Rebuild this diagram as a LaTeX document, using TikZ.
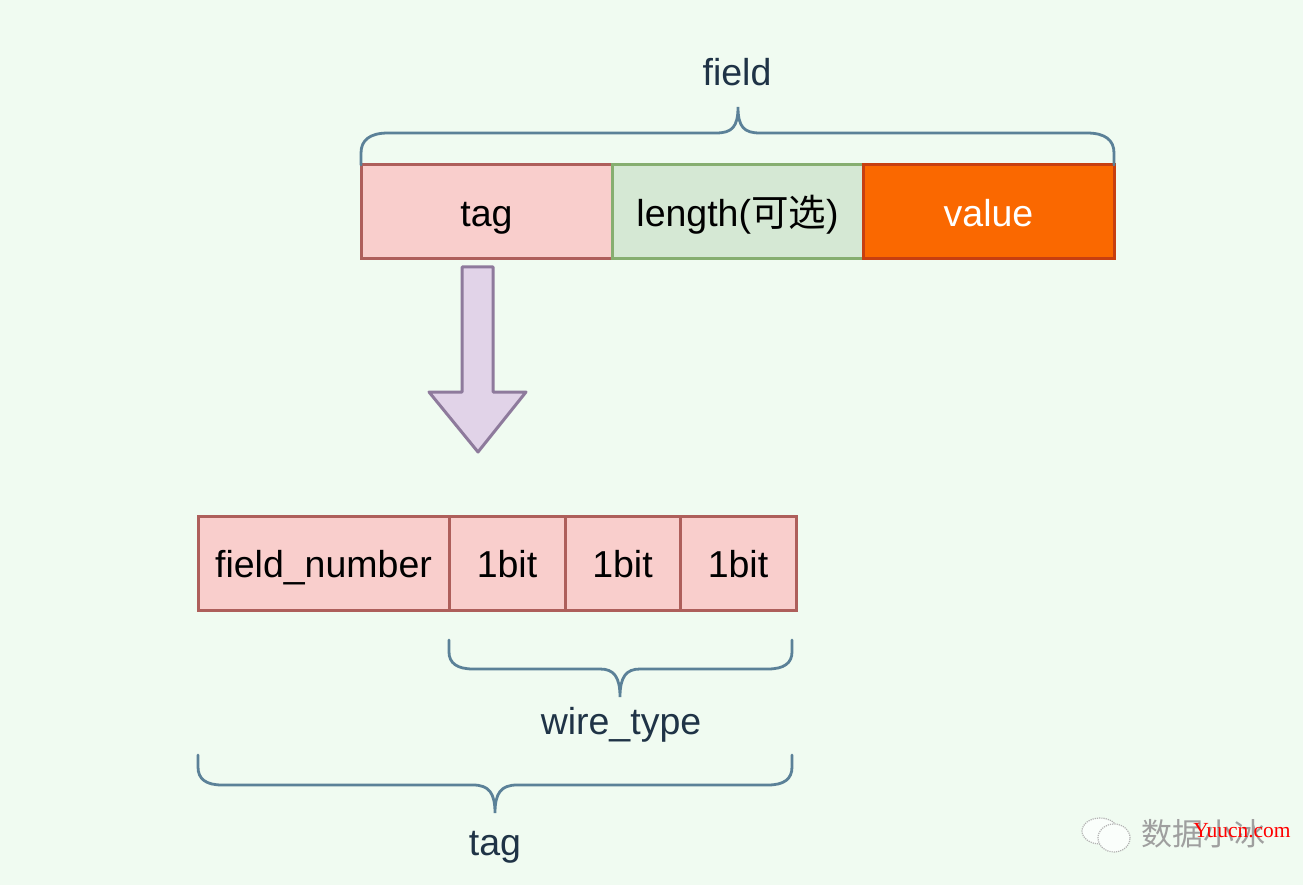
\documentclass[tikz,border=0pt]{standalone}
\usepackage{fontspec}
\setmainfont{Liberation Sans}
\newfontfamily\cjk{Noto Sans CJK SC}
\newfontfamily\wmser{Liberation Serif}
\definecolor{bgc}{HTML}{F0FBF1}
\definecolor{redfill}{HTML}{F9CECC}
\definecolor{redline}{HTML}{AE5F5B}
\definecolor{greenfill}{HTML}{D5E8D4}
\definecolor{greenline}{HTML}{86AE70}
\definecolor{orangefill}{HTML}{FA6800}
\definecolor{orangeline}{HTML}{C73F10}
\definecolor{purplefill}{HTML}{E1D3E8}
\definecolor{purpleline}{HTML}{8E7A9C}
\definecolor{bracec}{HTML}{5B8198}
\definecolor{labelc}{HTML}{1F3346}
\tikzset{
  cell/.style={draw,line width=3pt,minimum height=94pt,inner sep=0pt,outer sep=0pt,anchor=north west,
    text height=33pt,text depth=4pt,font=\fontsize{37.5}{40}\selectfont,text=black},
  redcell/.style={cell,fill=redfill,draw=redline},
  greencell/.style={cell,fill=greenfill,draw=greenline},
  orangecell/.style={cell,fill=orangefill,draw=orangeline,text=white},
  bracepath/.style={draw=bracec,line width=2.8pt,line cap=round},
  bracelabel/.style={font=\fontsize{37.5}{40}\selectfont,text=labelc,inner sep=0pt},
  bigarrow/.style={draw=purpleline,fill=purplefill,line width=3pt,line join=round},
}
\begin{document}
\begin{tikzpicture}[x=1pt,y=-1pt]
\useasboundingbox (0,0) rectangle (1303,885);
\fill[bgc] (0,0) rectangle (1303,885);
% top row
\node[redcell,minimum width=251pt] (tagtop) at (361,165) {tag};
\node[greencell,minimum width=251pt] (length) at (612,165) {length({\cjk 可选})};
\node[orangecell,minimum width=251pt] (value) at (863,165) {value};
% bottom row
\node[redcell,minimum width=251pt] (fn) at (198,516) {field\_number};
\node[redcell,minimum width=116pt] (b1) at (449,516) {1bit};
\node[redcell,minimum width=115pt] (b2) at (565,516) {1bit};
\node[redcell,minimum width=116pt] (b3) at (680,516) {1bit};
% block arrow
\draw[bigarrow] (462,267) -- (493,267) -- (493,392) -- (526,392) -- (478,452) -- (429,392) -- (462,392) -- cycle;
% labels
\node[bracelabel] (fieldlabel) at (737,72) {field};
\node[bracelabel] (wirelabel) at (621,725) {wire\_type};
\node[bracelabel] (taglabel) at (495,847) {tag};
% braces
\draw[bracepath] (361,165) -- (361,153) .. controls (361,140) and (370,133) .. (388,133)
  -- (716,133) .. controls (732,133) and (738,127) .. (738,107)
  .. controls (738,127) and (744,133) .. (760,133)
  -- (1087,133) .. controls (1105,133) and (1114,140) .. (1114,153) -- (1114,165);
\draw[bracepath] (449,640) -- (449,652) .. controls (449,663) and (457,669) .. (473,669)
  -- (600,669) .. controls (614,669) and (620,677) .. (620,697)
  .. controls (620,677) and (626,669) .. (640,669)
  -- (768,669) .. controls (784,669) and (792,663) .. (792,652) -- (792,640);
\draw[bracepath] (198,755) -- (198,767) .. controls (198,779) and (206,785) .. (222,785)
  -- (473,785) .. controls (489,785) and (495,793) .. (495,813)
  .. controls (495,793) and (501,785) .. (517,785)
  -- (768,785) .. controls (784,785) and (792,779) .. (792,767) -- (792,755);
% watermark
\begin{scope}[draw=gray!60,fill=white!70!bgc,line width=1.2pt,densely dotted]
\filldraw (1100,831) ellipse [x radius=18pt,y radius=13pt];
\filldraw (1114,838) ellipse [x radius=16pt,y radius=14pt];
\end{scope}
\node[inner sep=0pt,text=gray!75,font=\cjk\fontsize{31}{33}\selectfont] (wmcn) at (1203,834) {数据小冰};
\node[inner sep=0pt,text=red,font=\wmser\fontsize{21.5}{23}\selectfont] (wmen) at (1242,831) {Yuucn.com};
\end{tikzpicture}
\end{document}
